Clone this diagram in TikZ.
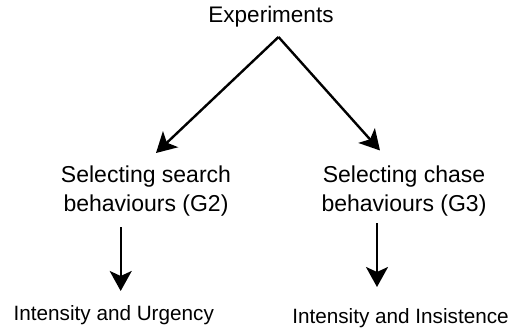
\documentclass[tikz,border=0pt]{standalone}
\usepackage{fontspec}
\setmainfont{Liberation Sans}
\usetikzlibrary{arrows.meta}
\begin{document}
\begin{tikzpicture}[x=1pt,y=-1pt,
  big/.style={inner sep=0pt,font=\fontsize{23}{29.4}\selectfont,align=center},
  top/.style={inner sep=0pt,font=\fontsize{22.5}{28}\selectfont},
  small/.style={inner sep=0pt,font=\fontsize{20.7}{25}\selectfont},
  conn/.style={line width=2.4pt,-{Stealth[length=20pt,width=22pt,inset=5pt]}}]
\useasboundingbox[fill=white] (0,0) rectangle (513,331);
\node[top,anchor=base] (exp) at (271,22.7) {Experiments};
\node[big] (g2) at (146,191) {Selecting search\\behaviours (G2)};
\node[big] (g3) at (404,191) {Selecting chase\\behaviours (G3)};
\node[small,anchor=base] (iu) at (113.8,320.7) {Intensity and Urgency};
\node[small,anchor=base] (ii) at (400.5,323) {Intensity and Insistence};
\coordinate (s1) at (278.5,37);
\coordinate (e1) at (156,153);
\coordinate (e2) at (380,150.5);
\coordinate (s3) at (120.7,227);
\coordinate (e3) at (120.7,291);
\coordinate (s4) at (377,223);
\coordinate (e4) at (377,287);
\draw[conn] (s1) -- (e1);
\draw[conn] (s1) -- (e2);
\draw[conn] (s3) -- (e3);
\draw[conn] (s4) -- (e4);
\end{tikzpicture}
\end{document}
